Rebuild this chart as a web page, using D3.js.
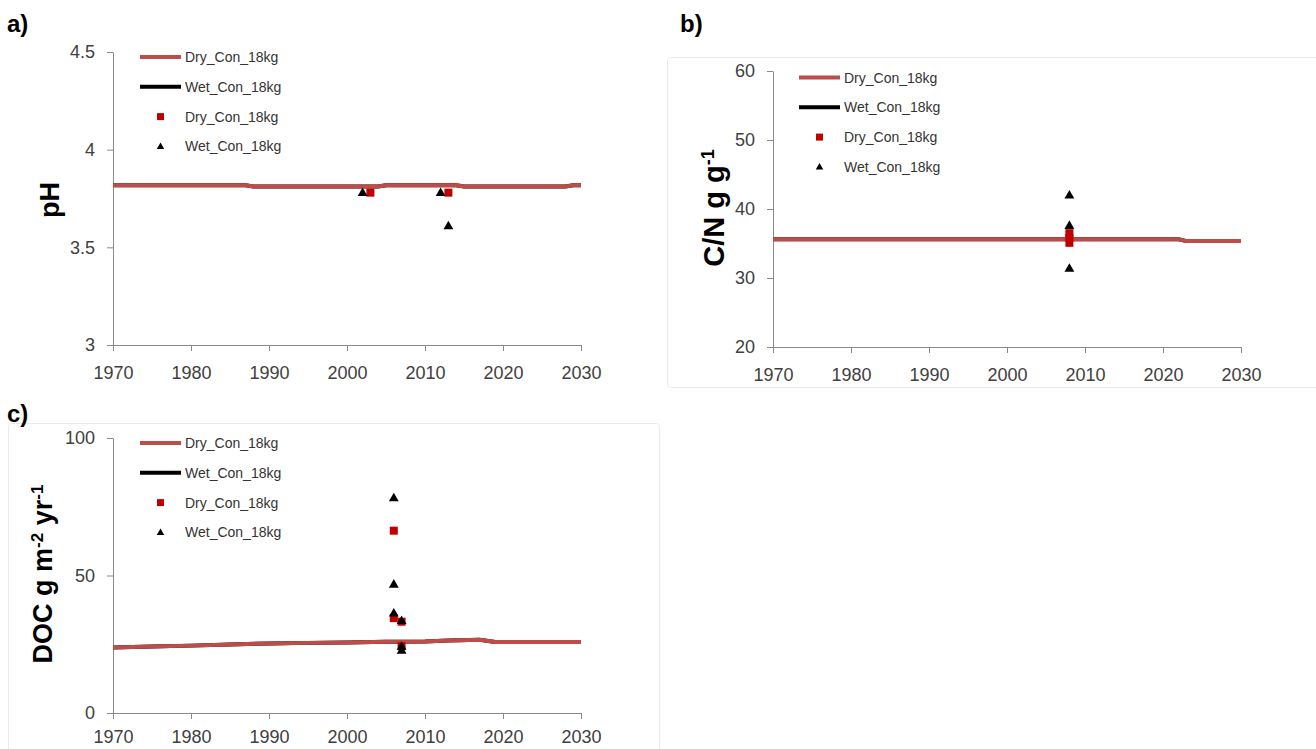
<!DOCTYPE html>
<html>
<head>
<meta charset="utf-8">
<script src="https://cdn.jsdelivr.net/npm/d3@7"></script>
<style>
  body { margin: 0; background: #fff; }
  text { font-family: "Liberation Sans", Arial, sans-serif; }
</style>
</head>
<body>
<script>
// Global variable
const w = 1316;
const h = 749;

// x axis (years), shared by all panels
const yearTicks = [1970, 1980, 1990, 2000, 2010, 2020, 2030];

// a) pH
const phTicks = [3, 3.5, 4, 4.5];
const phLineYears = [1970, 1987, 1988, 2004, 2005, 2014, 2015, 2028, 2029, 2030];
const phLineValues = [3.818, 3.818, 3.811, 3.811, 3.818, 3.818, 3.811, 3.811, 3.818, 3.818];
const phDryYears = [2003, 2013];
const phDryValues = [3.78, 3.78];
const phWetYears = [2002, 2012, 2013];
const phWetValues = [3.78, 3.78, 3.61];

// b) C/N
const cnTicks = [20, 30, 40, 50, 60];
const cnLineYears = [1970, 2022, 2023, 2030];
const cnLineValues = [35.6, 35.6, 35.35, 35.35];
const cnDryYears = [2008, 2008, 2008];
const cnDryValues = [36.5, 35.8, 35.1];
const cnWetYears = [2008, 2008, 2008];
const cnWetValues = [42.0, 37.6, 31.4];

// c) DOC
const docTicks = [0, 50, 100];
const docLineYears = [1970, 1975, 1980, 1985, 1990, 1995, 2000, 2005, 2010, 2013, 2017, 2019, 2030];
const docLineValues = [23.8, 24.2, 24.5, 24.9, 25.3, 25.5, 25.6, 25.9, 26.0, 26.4, 26.6, 25.8, 25.8];
const docDryYears = [2006, 2006, 2007, 2007];
const docDryValues = [66.3, 34.5, 33.2, 24.3];
const docWetYears = [2006, 2006, 2006, 2007, 2007, 2007];
const docWetValues = [78.2, 46.8, 36.3, 33.6, 24.2, 22.8];

const legendNames = ["Dry_Con_18kg", "Wet_Con_18kg", "Dry_Con_18kg", "Wet_Con_18kg"];

const redLine = "#be4d4a";
const redMark = "#c00000";
const axisColor = "#8a8a8a";
const textColor = "#404040";

//Create SVG element
let svg = d3.select("body")
            .append("svg")
                .attr("width", w)
                .attr("height", h);

// faint chart borders (b and c)
svg.append("rect")
    .attr("x", 667.5).attr("y", 57.5).attr("width", 700).attr("height", 330)
    .attr("rx", 3)
    .attr("fill", "none").attr("stroke", "#ebebeb");
svg.append("rect")
    .attr("x", 8.5).attr("y", 423.5).attr("width", 651).attr("height", 400)
    .attr("rx", 3)
    .attr("fill", "none").attr("stroke", "#ebebeb");

function zip(a, b) {
    return a.map((v, i) => ({ x: v, y: b[i] }));
}

function panel(p) {
    let g = svg.append("g");

    let x = d3.scaleLinear().domain([1970, 2030]).range([p.left, p.right]);
    let y = d3.scaleLinear().domain(p.yDomain).range([p.bottom, p.top]);

    // axes
    g.append("g")
        .attr("transform", "translate(0," + p.bottom + ")")
        .attr("color", axisColor)
        .call(d3.axisBottom(x).tickValues(yearTicks).tickFormat(d3.format("d"))
            .tickSize(6).tickSizeOuter(0).tickPadding(p.xPad));
    g.append("g")
        .attr("transform", "translate(" + p.left + ",0)")
        .attr("color", axisColor)
        .call(d3.axisLeft(y).tickValues(p.yTicks).tickFormat(d => d)
            .tickSize(6).tickSizeOuter(0).tickPadding(12));
    g.selectAll(".tick text")
        .attr("fill", textColor)
        .style("font-size", "18px")
        .style("font-family", "'Liberation Sans', Arial, sans-serif");
    g.selectAll(".domain, .tick line").attr("stroke-width", 1);

    // model lines (wet under dry)
    let line = d3.line().x(d => x(d.x)).y(d => y(d.y));
    let lineData = zip(p.lineYears, p.lineValues);
    g.append("path").datum(lineData)
        .attr("d", line).attr("fill", "none")
        .attr("stroke", "#000").attr("stroke-width", 4);
    g.append("path").datum(lineData)
        .attr("d", line).attr("fill", "none")
        .attr("stroke", redLine).attr("stroke-width", 4);

    // observations
    g.selectAll(".dry")
        .data(zip(p.dryYears, p.dryValues))
        .enter()
        .append("rect")
        .attr("x", d => x(d.x) - 4)
        .attr("y", d => y(d.y) - 4)
        .attr("width", 8).attr("height", 8)
        .attr("fill", redMark);
    let tri = d3.symbol().type(d3.symbolTriangle).size(42);
    g.selectAll(".wet")
        .data(zip(p.wetYears, p.wetValues))
        .enter()
        .append("path")
        .attr("d", tri)
        .attr("transform", d => "translate(" + x(d.x) + "," + (y(d.y) + 0.5) + ")")
        .attr("fill", "#000");

    // legend
    let lg = g.append("g").attr("transform", "translate(" + p.legX + "," + p.legY + ")");
    legendNames.forEach((name, i) => {
        let yy = i * 29.8;
        if (i === 0 || i === 1) {
            lg.append("line")
                .attr("x1", 0).attr("x2", 41).attr("y1", yy).attr("y2", yy)
                .attr("stroke", i === 0 ? redLine : "#000").attr("stroke-width", 4);
        } else if (i === 2) {
            lg.append("rect")
                .attr("x", 17).attr("y", yy - 3.5).attr("width", 7).attr("height", 7)
                .attr("fill", redMark);
        } else {
            lg.append("path")
                .attr("d", d3.symbol().type(d3.symbolTriangle).size(24))
                .attr("transform", "translate(20.5," + (yy + 0.5) + ")")
                .attr("fill", "#000");
        }
        lg.append("text")
            .attr("x", 45).attr("y", yy + 5)
            .attr("fill", "#333")
            .style("font-size", "14px")
            .text(name);
    });

    // y title
    let title = g.append("text")
        .attr("transform", "translate(" + p.titleX + "," + p.titleY + ") rotate(-90)")
        .attr("text-anchor", "middle")
        .attr("fill", "#000")
        .style("font-size", p.titleSize + "px")
        .style("font-weight", "bold");
    p.title.forEach(part => {
        let t = title.append("tspan").text(part.t);
        if (part.sup) {
            t.attr("baseline-shift", "super").style("font-size", Math.round(p.titleSize * 0.62) + "px");
        }
    });

    // panel label
    svg.append("text")
        .attr("x", p.labelX).attr("y", p.labelY)
        .attr("fill", "#000")
        .style("font-size", "24px")
        .style("font-weight", "bold")
        .text(p.label);
}

panel({
    left: 113, right: 581, top: 52, bottom: 345,
    yDomain: [3, 4.5], yTicks: phTicks, xPad: 15,
    lineYears: phLineYears, lineValues: phLineValues,
    dryYears: phDryYears, dryValues: phDryValues,
    wetYears: phWetYears, wetValues: phWetValues,
    legX: 140, legY: 57,
    titleX: 59, titleY: 200, titleSize: 27,
    title: [{ t: "pH" }],
    label: "a)", labelX: 7, labelY: 32
});

panel({
    left: 773, right: 1241, top: 71, bottom: 347,
    yDomain: [20, 60], yTicks: cnTicks, xPad: 15,
    lineYears: cnLineYears, lineValues: cnLineValues,
    dryYears: cnDryYears, dryValues: cnDryValues,
    wetYears: cnWetYears, wetValues: cnWetValues,
    legX: 799, legY: 77.5,
    titleX: 724, titleY: 208, titleSize: 29,
    title: [{ t: "C/N g g" }, { t: "-1", sup: true }],
    label: "b)", labelX: 680, labelY: 32
});

panel({
    left: 113, right: 581, top: 438, bottom: 713,
    yDomain: [0, 100], yTicks: docTicks, xPad: 11,
    lineYears: docLineYears, lineValues: docLineValues,
    dryYears: docDryYears, dryValues: docDryValues,
    wetYears: docWetYears, wetValues: docWetValues,
    legX: 140, legY: 443,
    titleX: 52, titleY: 574, titleSize: 27,
    title: [{ t: "DOC g m" }, { t: "-2", sup: true }, { t: " yr" }, { t: "-1", sup: true }],
    label: "c)", labelX: 7, labelY: 422
});
</script>
</body>
</html>
